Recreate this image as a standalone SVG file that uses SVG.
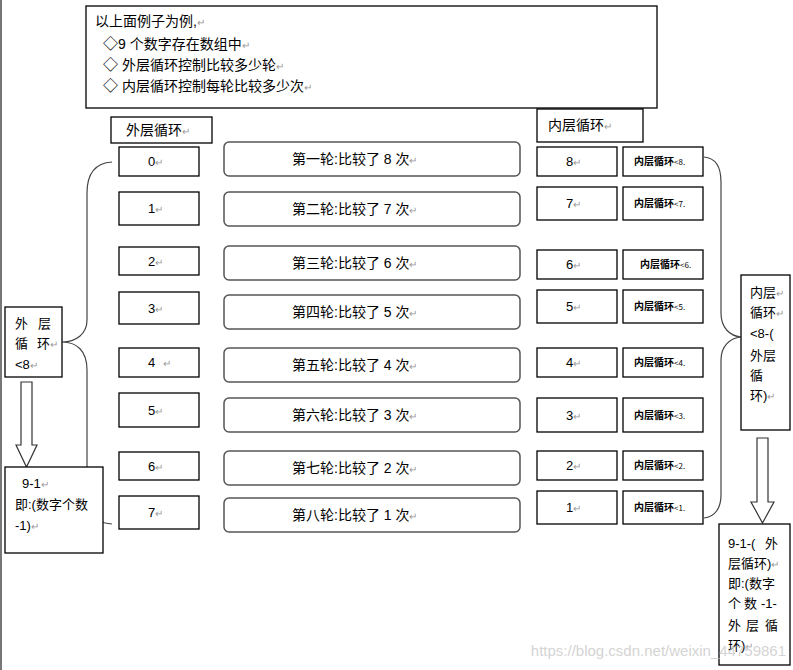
<svg xmlns="http://www.w3.org/2000/svg" width="793" height="670" viewBox="0 0 793 670">
<style>
.t{font-family:"Liberation Sans","Noto Sans CJK SC",sans-serif;font-size:14px;fill:#000}
.s{font-size:13px}
.r{fill:#999;font-size:10px}
.d{font-family:"Noto Sans CJK SC",sans-serif;font-size:15px}
.b{fill:#fff;stroke:#000;stroke-width:1.3}
.rb{fill:#fff;stroke:#555;stroke-width:1.5}
.sm{font-family:"Noto Sans CJK SC",sans-serif;font-size:10px;font-weight:bold;fill:#000}
.sm2{font-size:8px;font-weight:normal}
.c{fill:none;stroke:#444;stroke-width:1.2}
.ar{fill:#fff;stroke:#333;stroke-width:1.2}
</style>
<rect x="0" y="0" width="793" height="670" fill="#fff"/>
<line x1="1" y1="0" x2="1" y2="670" stroke="#777" stroke-width="2"/>

<g id="connectors">
<path class="c" d="M112,162 C96,163 87,172 87,193 L87,320 C87,334 76,342 62,342 C76,342 87,350 87,370 L87,505 C87,515 96,523 112,524"/>
<path class="c" d="M704,157 C716,158 721,168 721,182 L721,313 C721,328 730,336 741,337 C730,338 721,346 721,360 L721,495 C721,508 715,517 704,518"/>
<polygon class="ar" points="21,382 32,382 32,445 37,445 26.5,467 16,445 21,445"/>
<polygon class="ar" points="757,438 768,438 768,502 774,502 762.5,523 751,502 757,502"/>
</g>

<g id="intro">
<rect class="b" x="86" y="6" width="571" height="102"/>
<text class="t" x="95" y="26">以上面例子为例,<tspan class="r">↵</tspan></text>
<text class="t" x="103" y="49"><tspan class="d">◇</tspan>9 个数字存在数组中<tspan class="r">↵</tspan></text>
<text class="t" x="103" y="70"><tspan class="d">◇</tspan> 外层循环控制比较多少轮<tspan class="r">↵</tspan></text>
<text class="t" x="103" y="91"><tspan class="d">◇</tspan> 内层循环控制每轮比较多少次<tspan class="r">↵</tspan></text>
</g>

<g id="outer-title">
<rect class="b" x="111" y="117" width="101" height="26"/>
<text class="t" x="126" y="135">外层循环<tspan class="r">↵</tspan></text>
</g>
<g id="inner-title">
<rect class="b" x="537" y="109" width="106" height="33"/>
<text class="t" x="548" y="130">内层循环<tspan class="r">↵</tspan></text>
</g>

<g id="outer-values">
<rect class="b" x="119" y="147" width="80" height="29"/><text class="t s" x="148" y="166">0<tspan class="r">↵</tspan></text>
<rect class="b" x="119" y="192" width="80" height="33"/><text class="t s" x="148" y="213">1<tspan class="r">↵</tspan></text>
<rect class="b" x="119" y="247" width="80" height="28"/><text class="t s" x="148" y="266">2<tspan class="r">↵</tspan></text>
<rect class="b" x="119" y="292" width="80" height="32"/><text class="t s" x="148" y="313">3<tspan class="r">↵</tspan></text>
<rect class="b" x="119" y="348" width="80" height="29"/><text class="t s" x="148" y="367">4 <tspan class="r" dx="4">↵</tspan></text>
<rect class="b" x="119" y="393" width="80" height="34"/><text class="t s" x="148" y="415">5<tspan class="r">↵</tspan></text>
<rect class="b" x="119" y="452" width="80" height="28"/><text class="t s" x="148" y="471">6<tspan class="r">↵</tspan></text>
<rect class="b" x="119" y="496" width="80" height="33"/><text class="t s" x="148" y="517">7<tspan class="r">↵</tspan></text>
</g>

<g id="rounds">
<rect class="rb" x="224" y="142" width="296" height="34" rx="5"/><text class="t" x="292" y="164">第一轮:比较了 8 次<tspan class="r">↵</tspan></text>
<rect class="rb" x="224" y="192" width="296" height="34" rx="5"/><text class="t" x="292" y="214">第二轮:比较了 7 次<tspan class="r">↵</tspan></text>
<rect class="rb" x="224" y="246" width="296" height="34" rx="5"/><text class="t" x="292" y="268">第三轮:比较了 6 次<tspan class="r">↵</tspan></text>
<rect class="rb" x="224" y="295" width="296" height="34" rx="5"/><text class="t" x="292" y="317">第四轮:比较了 5 次<tspan class="r">↵</tspan></text>
<rect class="rb" x="224" y="348" width="296" height="34" rx="5"/><text class="t" x="292" y="370">第五轮:比较了 4 次<tspan class="r">↵</tspan></text>
<rect class="rb" x="224" y="398" width="296" height="34" rx="5"/><text class="t" x="292" y="420">第六轮:比较了 3 次<tspan class="r">↵</tspan></text>
<rect class="rb" x="224" y="451" width="296" height="34" rx="5"/><text class="t" x="292" y="473">第七轮:比较了 2 次<tspan class="r">↵</tspan></text>
<rect class="rb" x="224" y="498" width="296" height="34" rx="5"/><text class="t" x="292" y="520">第八轮:比较了 1 次<tspan class="r">↵</tspan></text>
</g>

<g id="inner-values">
<rect class="b" x="537" y="147" width="80" height="29"/><text class="t s" x="566" y="166">8<tspan class="r">↵</tspan></text>
<rect class="b" x="537" y="187" width="80" height="33"/><text class="t s" x="566" y="208">7<tspan class="r">↵</tspan></text>
<rect class="b" x="537" y="250" width="80" height="29"/><text class="t s" x="566" y="269">6<tspan class="r">↵</tspan></text>
<rect class="b" x="537" y="290" width="80" height="33"/><text class="t s" x="566" y="311">5<tspan class="r">↵</tspan></text>
<rect class="b" x="537" y="348" width="80" height="29"/><text class="t s" x="566" y="367">4<tspan class="r">↵</tspan></text>
<rect class="b" x="537" y="398" width="80" height="34"/><text class="t s" x="566" y="420">3<tspan class="r">↵</tspan></text>
<rect class="b" x="537" y="451" width="80" height="29"/><text class="t s" x="566" y="470">2<tspan class="r">↵</tspan></text>
<rect class="b" x="537" y="491" width="80" height="33"/><text class="t s" x="566" y="512">1<tspan class="r">↵</tspan></text>
</g>

<g id="inner-conditions">
<rect class="b" x="623" y="147" width="80" height="29"/><text class="sm" x="634" y="165">内层循环<tspan class="sm2">&lt;8.</tspan></text>
<rect class="b" x="623" y="187" width="80" height="33"/><text class="sm" x="634" y="207">内层循环<tspan class="sm2">&lt;7.</tspan></text>
<rect class="b" x="623" y="250" width="80" height="29"/><text class="sm" x="640" y="268">内层循环<tspan class="sm2">&lt;6.</tspan></text>
<rect class="b" x="623" y="290" width="80" height="33"/><text class="sm" x="634" y="310">内层循环<tspan class="sm2">&lt;5.</tspan></text>
<rect class="b" x="623" y="348" width="80" height="29"/><text class="sm" x="634" y="366">内层循环<tspan class="sm2">&lt;4.</tspan></text>
<rect class="b" x="623" y="398" width="80" height="34"/><text class="sm" x="634" y="419">内层循环<tspan class="sm2">&lt;3.</tspan></text>
<rect class="b" x="623" y="451" width="80" height="29"/><text class="sm" x="634" y="469">内层循环<tspan class="sm2">&lt;2.</tspan></text>
<rect class="b" x="623" y="491" width="80" height="33"/><text class="sm" x="634" y="511">内层循环<tspan class="sm2">&lt;1.</tspan></text>
</g>

<g id="outer-loop">
<rect class="b" x="5" y="307" width="57" height="70"/>
<text class="t s" y="328"><tspan x="15">外</tspan><tspan x="38">层</tspan></text>
<text class="t s" y="348"><tspan x="15">循</tspan><tspan x="37">环</tspan><tspan class="r">↵</tspan></text>
<text class="t s" x="15" y="369">&lt;8<tspan class="r">↵</tspan></text>
</g>

<g id="outer-count">
<rect class="b" x="5" y="467" width="98" height="86"/>
<text class="t s" x="22" y="488">9-1<tspan class="r">↵</tspan></text>
<text class="t s" x="15" y="509">即:(数字个数</text>
<text class="t s" x="15" y="530">-1)<tspan class="r">↵</tspan></text>
</g>

<g id="inner-loop">
<rect class="b" x="741" y="275" width="49" height="155"/>
<text class="t s" x="750" y="297">内层<tspan class="r">↵</tspan></text>
<text class="t s" x="750" y="317">循环<tspan class="r">↵</tspan></text>
<text class="t s" x="750" y="338">&lt;8-(</text>
<text class="t s" x="750" y="360">外层</text>
<text class="t s" x="750" y="380">循</text>
<text class="t s" x="750" y="400">环)<tspan class="r">↵</tspan></text>
</g>

<g id="inner-count">
<rect class="b" x="719" y="524" width="71" height="141"/>
<text class="t s" y="548"><tspan x="728">9-1-(</tspan><tspan x="765">外</tspan></text>
<text class="t s" x="728" y="568">层循环)<tspan class="r">↵</tspan></text>
<text class="t s" x="728" y="588">即:(数字</text>
<text class="t s" y="608"><tspan x="728">个</tspan><tspan x="744">数</tspan><tspan x="761">-1-</tspan></text>
<text class="t s" y="630"><tspan x="728">外</tspan><tspan x="746">层</tspan><tspan x="765">循</tspan></text>
<text class="t s" x="728" y="650">环)<tspan class="r">↵</tspan></text>
</g>

<text x="786" y="656" text-anchor="end" font-family="Liberation Sans, sans-serif" font-size="15" fill="#c8c8c8" fill-opacity="0.8">https://blog.csdn.net/weixin_44759861</text>
</svg>
